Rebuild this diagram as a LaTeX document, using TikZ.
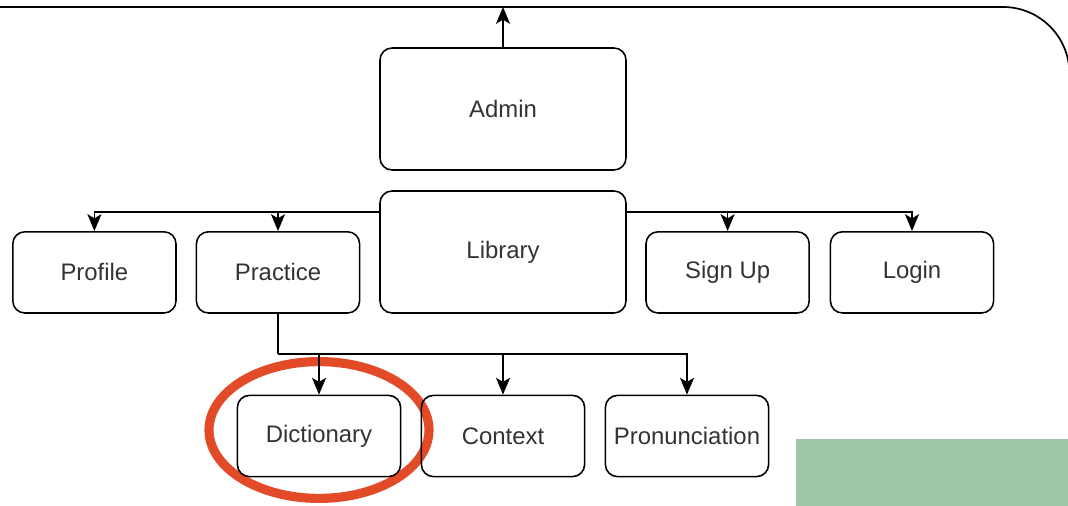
\documentclass[tikz,border=0pt]{standalone}
\usepackage{fontspec}
\setmainfont{Liberation Sans}
\usetikzlibrary{arrows.meta}
\definecolor{ringred}{HTML}{E34A27}
\definecolor{notegreen}{HTML}{9FC6A8}

\begin{document}
\begin{tikzpicture}[
    page/.style={draw, rounded corners=0.3cm, line width=1.1pt, text=black!80, font=\fontsize{17}{20}\selectfont, inner sep=0pt},
    bigpage/.style={page, minimum width=6.15cm, minimum height=3.05cm},
    smallpage/.style={page, minimum width=4.08cm, minimum height=2.03cm},
    arrow/.style={-{Stealth[length=12pt, width=10pt, inset=3pt]}, line width=1.1pt}
]
    \useasboundingbox (0,0) rectangle (26.7,12.65);
    \clip (0,0) rectangle (26.7,12.65);

    % outer frame and note
    \draw[line width=1.2pt] (-0.1,12.475) -- (25.075,12.475) arc[start angle=90, end angle=0, radius=1.66] -- (26.735,8);
    \coordinate (frametop) at (12.575,12.475);
    \fill[notegreen] (19.9,0) rectangle (26.8,1.675);
    \draw[ringred, line width=6.5pt] (7.975,1.9) ellipse [x radius=2.75, y radius=1.71];

    \node[bigpage] (admin) at (12.575, 9.925) {Admin};
    \node[bigpage] (lib) at (12.575, 6.35) {Library};
    \node[smallpage] (profile) at (2.36, 5.84) {Profile};
    \node[smallpage] (practice) at (6.95, 5.84) {Practice};
    \node[smallpage] (signup) at (18.19, 5.84) {Sign Up};
    \node[smallpage] (login) at (22.8, 5.84) {Login};
    \node[smallpage] (dict) at (7.975, 1.75) {Dictionary};
    \node[smallpage] (context) at (12.575, 1.75) {Context};
    \node[smallpage] (pron) at (17.175, 1.75) {Pronunciation};
    \coordinate (bus) at (6.95, 3.8);

    \draw[arrow] (admin) -- (frametop);
    \draw[arrow] (lib.162) -| (profile);
    \draw[arrow] (lib.162 -| practice) -- (practice);
    \draw[arrow] (lib.18) -| (login);
    \draw[arrow] (lib.18 -| signup) -- (signup);
    \draw[line width=1.1pt] (practice) -- (bus);
    \draw[arrow] (bus) -| (pron);
    \draw[arrow] (bus -| dict) -- (dict);
    \draw[arrow] (bus -| context) -- (context);
\end{tikzpicture}
\end{document}
